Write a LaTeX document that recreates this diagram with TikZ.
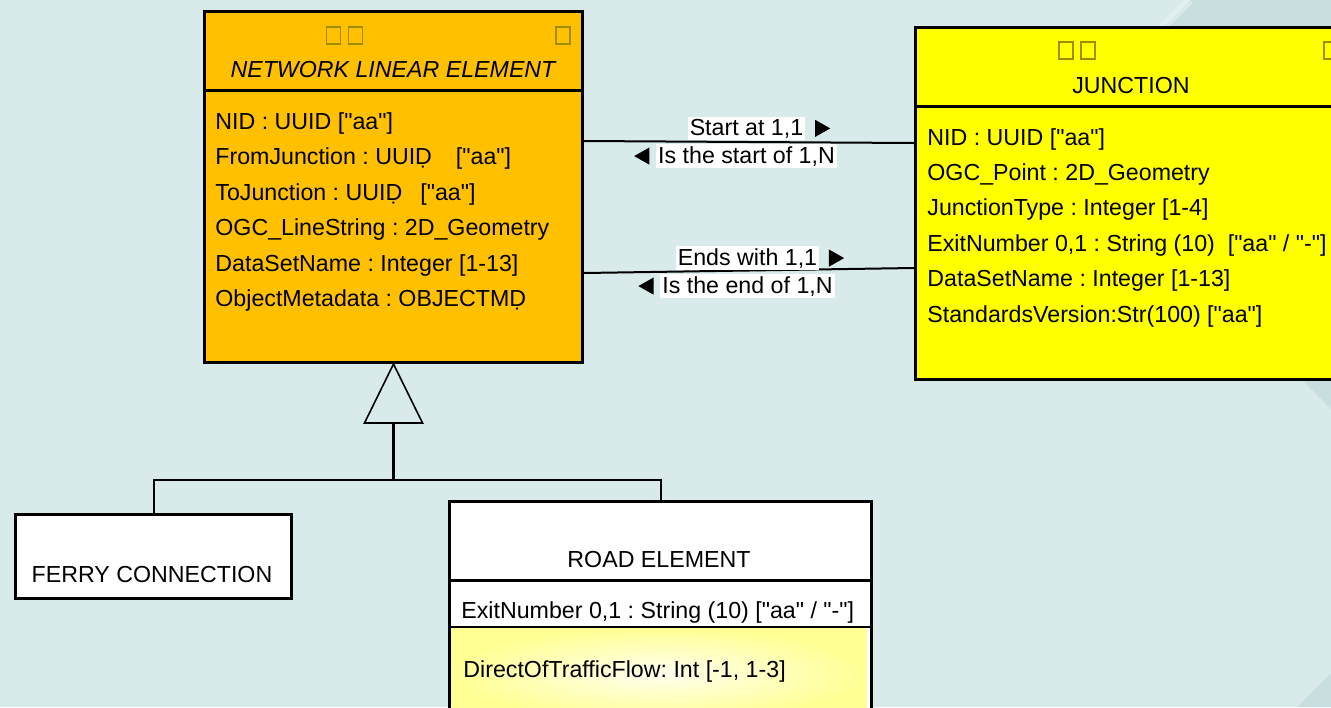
\documentclass[tikz,border=0pt]{standalone}
\usepackage{fontspec}
\newfontfamily\umlfam{Liberation Sans}
\usetikzlibrary{positioning,calc,shapes.geometric}
\definecolor{bgcyan}{HTML}{D8EAEA}
\definecolor{bgshade}{HTML}{C9DFDF}
\definecolor{nleorange}{HTML}{FFC000}
\definecolor{jctyellow}{HTML}{FFFF00}
\definecolor{tofuline}{HTML}{A08C00}
\newcommand{\umlfont}{\umlfam\fontsize{11.6}{13}\selectfont\frenchspacing}

\begin{document}
\begin{tikzpicture}[x=0.5pt,y=-0.5pt,
    classbox/.style={draw,line width=1.5pt,inner sep=0pt,anchor=north west},
    attr/.style={anchor=base west,inner sep=0pt,font=\umlfont},
    classname/.style={anchor=base,inner sep=0pt,font=\umlfont},
    tofu/.style={draw=tofuline,line width=0.6pt,minimum width=7pt,minimum height=8.5pt,inner sep=0pt},
    rolename/.style={fill=white,inner sep=1pt,anchor=base,font=\umlfont},
    roletip/.style={isosceles triangle,isosceles triangle stretches,fill=black,inner sep=0pt,
        minimum width=8.6pt,minimum height=7.6pt},
    assoc/.style={line width=1pt},
    gen/.style={line width=0.8pt}]
    \useasboundingbox (0,0) rectangle (1331,707);
    \clip (0,0) rectangle (1331,707);
    % background
    \fill[bgcyan] (0,0) rectangle (1331,707);
    \fill[bgshade] (1190,0) -- (1056,134) -- (1331,409) -- (1331,0) -- cycle;
    \fill[bgshade] (1297,707) -- (1331,673) -- (1331,707) -- cycle;
    \draw[white,opacity=0.3,line width=4pt] (1190,0) -- (1056,134);

    % NETWORK LINEAR ELEMENT
    \node[classbox,fill=nleorange,minimum width=189pt,minimum height=175.5pt] (nle) at (203,10) {};
    \draw[line width=1.5pt] ($(nle.north west)+(0,80)$) -- ($(nle.north east)+(0,80)$);
    \node[tofu] (nleT1) at (333.5,35.5) {};
    \node[tofu] (nleT2) at (355.5,35.5) {};
    \node[tofu] (nleT3) at (563,35.5) {};
    \node[classname] (nleName) at (393,77) {\itshape NETWORK LINEAR ELEMENT};
    \node[attr] (nleA1) at (215,129.3) {NID : UUID ["aa"]};
    \node[attr] (nleA2) at (215,164.8) {FromJunction : UUI\d{D}\hspace{12pt}["aa"]};
    \node[attr] (nleA3) at (215,200.3) {ToJunction : UUI\d{D}\hspace{9pt}["aa"]};
    \node[attr] (nleA4) at (215,235.8) {OGC\_LineString : 2D\_Geometry};
    \node[attr] (nleA5) at (215,271.3) {DataSetName : Integer [1-13]};
    \node[attr] (nleA6) at (215,306.8) {ObjectMetadata : OBJECTM\d{D}};

    % JUNCTION
    \node[classbox,fill=jctyellow,minimum width=216pt,minimum height=176pt] (jct) at (914,26) {};
    \draw[line width=1.5pt] ($(jct.north west)+(0,80)$) -- ($(jct.north east)+(0,80)$);
    \node[tofu] (jctT1) at (1066,50.5) {};
    \node[tofu] (jctT2) at (1088,50.5) {};
    \node[tofu] (jctT3) at (1331,50.5) {};
    \node[classname] (jctName) at (1131,93.3) {JUNCTION};
    \node[attr] (jctA1) at (927,145) {NID : UUID ["aa"]};
    \node[attr] (jctA2) at (927,180.4) {OGC\_Point : 2D\_Geometry};
    \node[attr] (jctA3) at (927,215.8) {JunctionType : Integer [1-4]};
    \node[attr] (jctA4) at (927,251.2) {ExitNumber 0,1 : String (10)\ \ ["aa" / "-"]};
    \node[attr] (jctA5) at (927,286.6) {DataSetName : Integer [1-13]};
    \node[attr] (jctA6) at (927,322) {StandardsVersion:Str(100) ["aa"]};

    % associations
    \draw[assoc] ($(nle.north east)+(0,131)$) -- ($(jct.north west)+(0,117)$);
    \draw[assoc] ($(nle.north east)+(0,263)$) -- ($(jct.north west)+(0,242)$);
    \node[rolename] (startAt) at (746.5,135) {Start at 1,1};
    \node[roletip,right=4.5pt of startAt] (startAtTip) {};
    \node[rolename] (startOf) at (746.5,163) {Is the start of 1,N};
    \node[roletip,shape border rotate=180,left=3pt of startOf] (startOfTip) {};
    \node[rolename] (endsWith) at (747.5,265) {Ends with 1,1};
    \node[roletip,right=4.5pt of endsWith] (endsWithTip) {};
    \node[rolename] (endOf) at (747.5,293) {Is the end of 1,N};
    \node[roletip,shape border rotate=180,left=3pt of endOf] (endOfTip) {};

    % FERRY CONNECTION
    \node[classbox,fill=white,minimum width=138pt,minimum height=42pt] (ferry) at (14,513) {};
    \node[classname] (ferryName) at (152,582) {FERRY CONNECTION};

    % ROAD ELEMENT
    \node[classbox,fill=white,minimum width=211pt,minimum height=115pt] (road) at (448,500) {};
    \shade[inner color=yellow!6,outer color=yellow!42] (451.5,628) rectangle (866.5,720);
    \draw[line width=1.5pt] ($(road.north west)+(0,80)$) -- ($(road.north east)+(0,80)$);
    \draw[line width=1pt] ($(road.north west)+(0,127)$) -- ($(road.north east)+(0,127)$);
    \node[classname] (roadName) at (659,567) {ROAD ELEMENT};
    \node[attr] (roadA1) at (461,618) {ExitNumber 0,1 : String (10) ["aa" / "-"]};
    \node[attr] (roadA2) at (463,677) {DirectOfTrafficFlow: Int [-1, 1-3]};

    % generalization
    \draw[gen,fill=bgcyan] (nle.south) -- ++(-29,59) -- ++(58,0) -- cycle;
    \path (nle.south) ++(0,59) coordinate (genFoot) ++(0,57) coordinate (genBar);
    \draw[line width=1.5pt] (genFoot) -- (genBar);
    \draw[assoc] (ferry.north) |- (genBar) -| (road.north);
\end{tikzpicture}
\end{document}
